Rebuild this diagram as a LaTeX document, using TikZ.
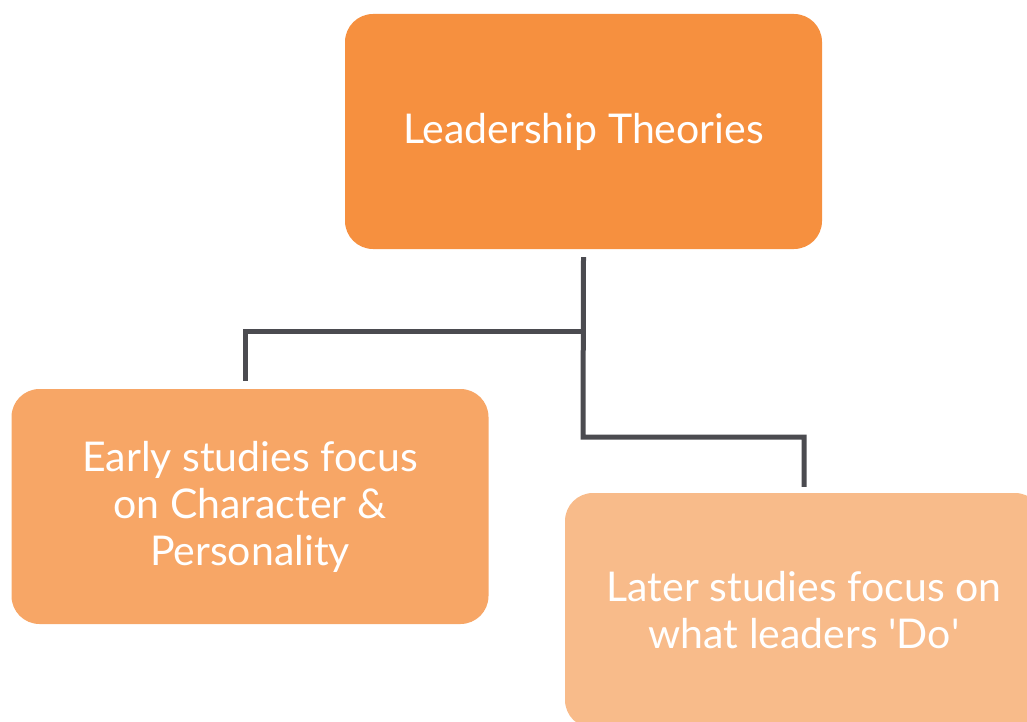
\documentclass[tikz,border=0pt]{standalone}
\usepackage{fontspec}
\setmainfont{Lato}
\usetikzlibrary{positioning}
\definecolor{topfill}{HTML}{F6903F}
\definecolor{earlyfill}{HTML}{F7A666}
\definecolor{laterfill}{HTML}{F8BB8A}
\definecolor{linegray}{HTML}{4B4B50}
\tikzset{
  box/.style={rounded corners=28pt, minimum width=477pt, minimum height=235pt,
    inner sep=0pt, align=center, text=white, font=\fontsize{41}{47}\selectfont},
  conn/.style={draw=linegray, line width=5pt}
}
\begin{document}
\begin{tikzpicture}[x=1pt,y=-1pt]
\useasboundingbox (0,0) rectangle (1027,722);

\node [box, fill=topfill] (top) at (583.5,131.5) {\raisebox{-2pt}{Leadership Theories}};
\node [box, fill=earlyfill] (early) at (250,506.5) {Early studies focus\\on Character \&\\Personality};
\node [box, fill=laterfill, minimum width=478pt] (later) at (804,610.5) {Later studies focus on\\what leaders \textquotesingle Do\textquotesingle};
\coordinate (j1) at (583,331);
\coordinate (j2) at (583,437);
\draw [conn] ([yshift=-8pt]top.south) -- (j2) -| ([yshift=6pt]later.north);
\draw [conn] (j1) -| ([xshift=-5pt,yshift=8pt]early.north);
\end{tikzpicture}
\end{document}
